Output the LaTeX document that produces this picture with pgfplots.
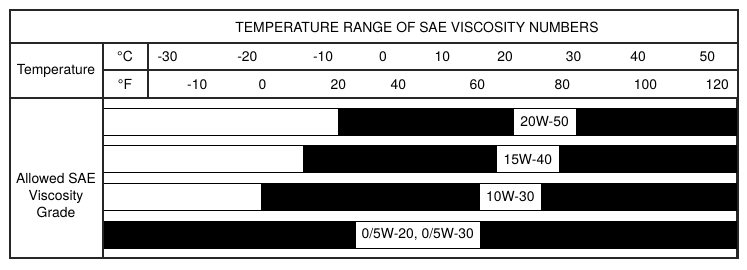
\documentclass[border=0pt]{standalone}
\usepackage{fontspec}
\setmainfont{TeX Gyre Heros}
\usepackage{pgfplots}
\pgfplotsset{compat=1.18}
\newcommand{\chf}{\fontsize{13.9pt}{17pt}\selectfont}
\begin{document}
\chf
\begin{tikzpicture}[x=1pt,y=1pt]
\path (0,0) rectangle (747,269);
% Fahrenheit row (tick labels only)
\begin{axis}[
  at={(103pt,11pt)}, anchor=south west,
  width=634pt, height=160pt, scale only axis,
  xmin=-41.6, xmax=54.6, ymin=0.376, ymax=4.624, y dir=reverse,
  ytick=\empty,
  xtick={-27.3,-17.4,-5.9,3.2,15.2,28.1,40.7,51.6},
  xticklabels={-10,0,20,40,60,80,100,120},
  xticklabel pos=upper,
  major tick length=0pt,
  axis line style={draw=none},
  x tick label style={anchor=center, yshift=13.7pt, font=\chf},
]
\addplot[draw=none] coordinates {(0,1)};
\end{axis}
% main axis: Celsius row and grade bars
\begin{axis}[
  at={(103pt,11pt)}, anchor=south west,
  width=634pt, height=160pt, scale only axis,
  xmin=-41.6, xmax=54.6, ymin=0.376, ymax=4.624, y dir=reverse,
  ytick=\empty,
  xtick={-31.8,-19.7,-8.2,0.9,9.9,19.4,29.8,39.6,50.1},
  xticklabels={-30,-20,-10,0,10,20,30,40,50},
  xticklabel pos=upper,
  major tick length=0pt,
  x tick label style={anchor=center, yshift=41.3pt, font=\chf},
  axis line style={line width=1.1pt, black!85},
  clip=false,
]
% 20W-50
\addplot[draw=black, fill=white, line width=0.9pt] coordinates {(-41.6,0.642) (-5.9,0.642) (-5.9,1.358) (-41.6,1.358)} -- cycle;
\addplot[draw=black, fill=black] coordinates {(-5.9,0.642) (54.6,0.642) (54.6,1.358) (-5.9,1.358)} -- cycle;
% 15W-40
\addplot[draw=black, fill=white, line width=0.9pt] coordinates {(-41.6,1.642) (-11.2,1.642) (-11.2,2.358) (-41.6,2.358)} -- cycle;
\addplot[draw=black, fill=black] coordinates {(-11.2,1.642) (54.6,1.642) (54.6,2.358) (-11.2,2.358)} -- cycle;
% 10W-30
\addplot[draw=black, fill=white, line width=0.9pt] coordinates {(-41.6,2.642) (-17.6,2.642) (-17.6,3.358) (-41.6,3.358)} -- cycle;
\addplot[draw=black, fill=black] coordinates {(-17.6,2.642) (54.6,2.642) (54.6,3.358) (-17.6,3.358)} -- cycle;
% 0/5W-20, 0/5W-30
\addplot[draw=black, fill=black] coordinates {(-41.6,3.642) (54.6,3.642) (54.6,4.358) (-41.6,4.358)} -- cycle;
\node[draw=black, fill=white, line width=0.5pt, inner xsep=7pt, minimum height=27pt, font=\chf] at (axis cs:25.4,1) {20W-50};
\node[draw=black, fill=white, line width=0.5pt, inner xsep=7pt, minimum height=27pt, font=\chf] at (axis cs:22.85,2) {15W-40};
\node[draw=black, fill=white, line width=0.5pt, inner xsep=7pt, minimum height=27pt, font=\chf] at (axis cs:20.2,3) {10W-30};
\node[draw=black, fill=white, line width=0.5pt, inner xsep=6.5pt, minimum height=27pt, font=\chf] at (axis cs:6.16,4) {0/5W-20, 0/5W-30};
\end{axis}
% table frame
\begin{scope}[line width=1.1pt, black!85]
\draw (10,11) rectangle (738,259);
\draw (10,226) -- (738,226);
\draw (103,199) -- (738,199);
\draw (10,171) -- (738,171);
\draw (103,226) -- (103,11);
\draw (148,226) -- (148,171);
\end{scope}
\node[font=\chf] at (417,242) {TEMPERATURE RANGE OF SAE VISCOSITY NUMBERS};
\node[font=\chf] at (56,198) {Temperature};
\node[font=\chf] at (125,212.3) {°C};
\node[font=\chf] at (125,184.7) {°F};
\node[font=\chf, align=center] at (56,74) {Allowed SAE\\Viscosity\\Grade};
\end{tikzpicture}
\end{document}
